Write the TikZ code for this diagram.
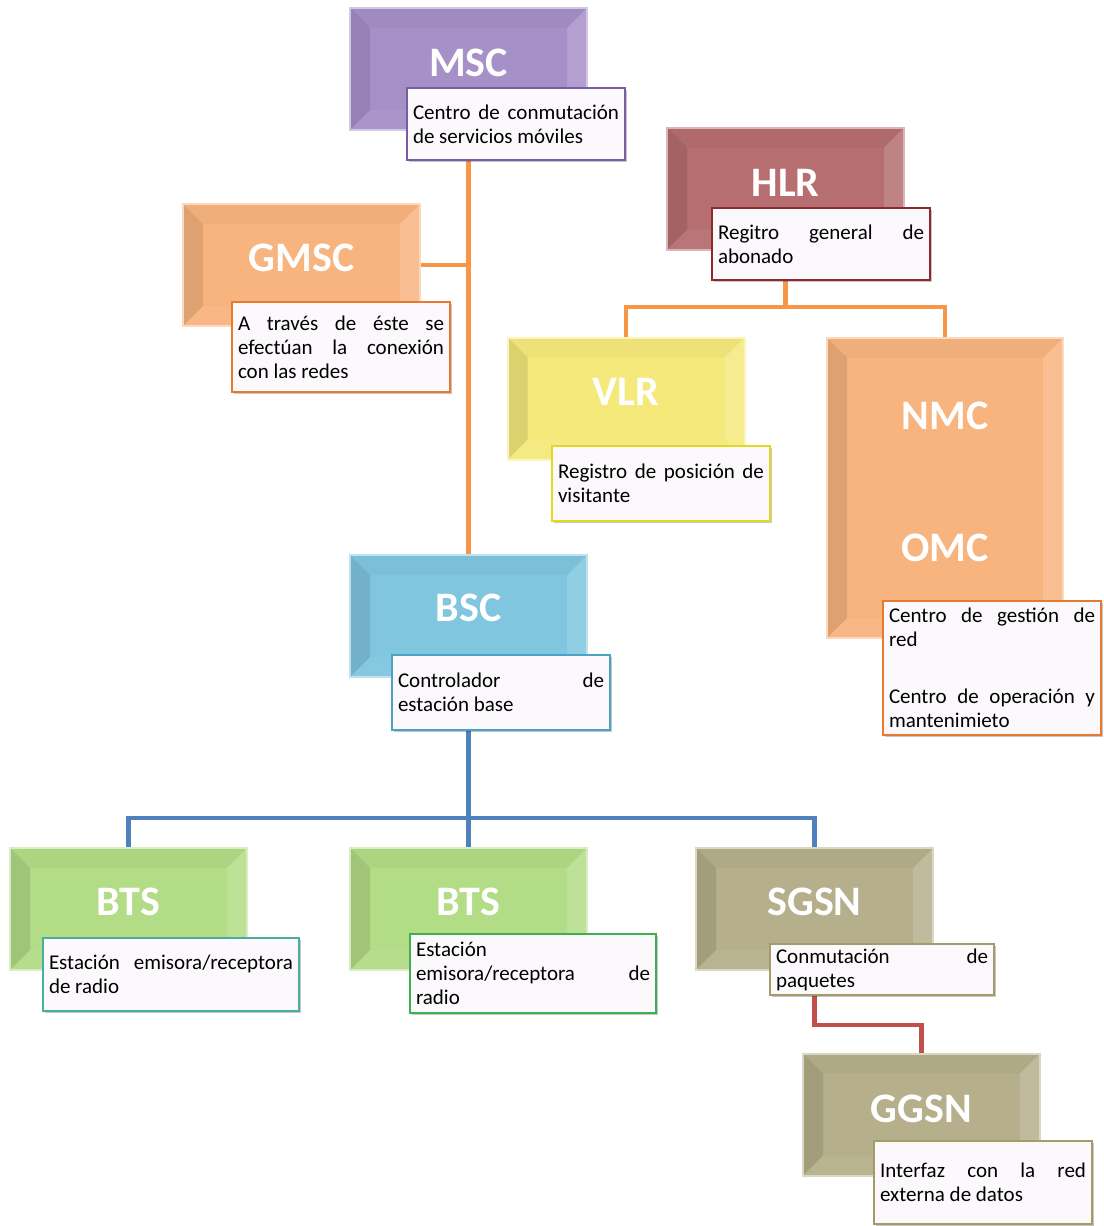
\documentclass[tikz,border=0pt]{standalone}
\usepackage{fontspec}
\setmainfont{Carlito}
\usetikzlibrary{calc,backgrounds,shadows}

% fills of the unit boxes
\definecolor{mscfill}{HTML}{A690C8}
\definecolor{gmscfill}{HTML}{F8B47F}
\definecolor{hlrfill}{HTML}{B66E70}
\definecolor{vlrfill}{HTML}{F5E97C}
\definecolor{bscfill}{HTML}{80C6DF}
\definecolor{btsfill}{HTML}{B3DC86}
\definecolor{sgsnfill}{HTML}{B5B08B}
% borders of the description boxes
\definecolor{mscedge}{HTML}{7A5CA6}
\definecolor{orangeedge}{HTML}{E8792E}
\definecolor{hlredge}{HTML}{8C2A30}
\definecolor{vlredge}{HTML}{E2DA1E}
\definecolor{bscedge}{HTML}{4AA2C4}
\definecolor{btsedgeA}{HTML}{4AADA0}
\definecolor{btsedgeB}{HTML}{3DB050}
\definecolor{sgsnedge}{HTML}{A39B68}
\definecolor{labfill}{HTML}{FCF9FC}
% connector colours
\definecolor{lineorange}{HTML}{F79646}
\definecolor{lineblue}{HTML}{4F81BD}
\definecolor{linered}{HTML}{C0504D}

\tikzset{
  unit/.style={rectangle, fill=#1, draw=#1!50!white, line width=2pt,
    minimum width=237pt, minimum height=122pt, inner sep=0pt,
    path picture={
      \path (path picture bounding box.south west) coordinate (bvsw)
            (path picture bounding box.north west) coordinate (bvnw)
            (path picture bounding box.north east) coordinate (bvne)
            (path picture bounding box.south east) coordinate (bvse);
      \fill[black,opacity=.10] (bvsw) -- (bvnw) -- ([shift={(20pt,-20pt)}]bvnw)
            -- ([shift={(20pt,20pt)}]bvsw) -- cycle;
      \fill[black,opacity=.03] (bvnw) -- (bvne) -- ([shift={(-20pt,-20pt)}]bvne)
            -- ([shift={(20pt,-20pt)}]bvnw) -- cycle;
      \fill[white,opacity=.15] (bvne) -- (bvse) -- ([shift={(-20pt,20pt)}]bvse)
            -- ([shift={(-20pt,-20pt)}]bvne) -- cycle;
      \fill[white,opacity=.05] (bvsw) -- (bvse) -- ([shift={(-20pt,20pt)}]bvse)
            -- ([shift={(20pt,20pt)}]bvsw) -- cycle;
    }},
  title/.style={text=white, inner sep=0pt,
    font=\fontsize{42}{48}\selectfont\bfseries},
  lab/.style={rectangle, draw=#1, line width=1.6pt, fill=labfill,
    inner xsep=6pt, inner ysep=0pt, align=justify,
    font=\fontsize{21}{24}\selectfont,
    drop shadow={shadow xshift=1.5pt, shadow yshift=-1.5pt, fill=black, opacity=.22}},
  conn/.style={line width=4.5pt, draw=#1}
}

% paragraph settings for the description texts
\newcommand\descprep{\hyphenpenalty=10000\relax\exhyphenpenalty=10000\relax\tolerance=10000\relax}

% description box: name, x1, y1, x2, y2, border colour, text
\newcommand\descbox[7]{%
  \pgfmathsetmacro\dbw{#4-#2}%
  \pgfmathsetmacro\dbh{#5-#3}%
  \pgfmathsetmacro\dbt{#4-#2-12}%
  \node[lab=#6, minimum width=\dbw pt, minimum height=\dbh pt, text width=\dbt pt]
    (#1) at ({(#2+#4)/2},{(#3+#5)/2}) {\descprep #7};%
}

\begin{document}
\begin{tikzpicture}[x=1pt,y=-1pt]
\useasboundingbox (0,0) rectangle (1103,1226);

% unit boxes
\node[unit=mscfill]  (msc)  at (468.5,69)   {};
\node[unit=gmscfill] (gmsc) at (301.5,265)  {};
\node[unit=hlrfill]  (hlr)  at (785.5,188.5){};
\node[unit=vlrfill]  (vlr)  at (626,398.5)  {};
\node[unit=gmscfill, minimum width=236pt, minimum height=300pt] (nmc) at (945,488) {};
\node[unit=bscfill]  (bsc)  at (468.5,616)  {};
\node[unit=btsfill]  (btsa) at (128.5,909)  {};
\node[unit=btsfill]  (btsb) at (468.5,909)  {};
\node[unit=sgsnfill] (sgsn) at (814.5,909)  {};
\node[unit=sgsnfill] (ggsn) at (921.5,1114.5){};

% titles
\node[title] (msct)  at ([yshift=-56pt]msc.north)  {MSC};
\node[title] (gmsct) at ([yshift=-55pt]gmsc.north) {GMSC};
\node[title] (hlrt)  at ([yshift=-56pt]hlr.north)  {HLR};
\node[title] (vlrt)  at ([yshift=-55pt]vlr.north)  {VLR};
\node[title] (nmct)  at ([yshift=-79pt]nmc.north)  {NMC};
\node[title] (omct)  at ([yshift=-211pt]nmc.north) {OMC};
\node[title] (bsct)  at ([yshift=-54pt]bsc.north)  {BSC};
\node[title] (btsat) at ([yshift=-55pt]btsa.north) {BTS};
\node[title] (btsbt) at ([yshift=-55pt]btsb.north) {BTS};
\node[title] (sgsnt) at ([yshift=-55pt]sgsn.north) {SGSN};
\node[title] (ggsnt) at ([yshift=-56pt]ggsn.north) {GGSN};

% descriptions
\descbox{mscl}{407}{88}{625}{160}{mscedge}{Centro de conmutación\linebreak de servicios móviles}
\descbox{gmscl}{232}{302}{450}{392}{orangeedge}{A través de éste se\linebreak efectúan la conexión\linebreak con las redes}
\descbox{hlrl}{712}{208}{930}{280}{hlredge}{Regitro general de\linebreak abonado}
\descbox{vlrl}{552}{446}{770}{521}{vlredge}{Registro de posición de\linebreak visitante}
\descbox{nmcl}{883}{601}{1101}{735}{orangeedge}{Centro de gestión de\linebreak red\par\vspace{33pt}Centro de operación y\linebreak mantenimieto}
\descbox{bscl}{392}{655}{610}{730}{bscedge}{Controlador de\linebreak estación base}
\descbox{btsal}{43}{938}{299}{1011}{btsedgeA}{Estación emisora/receptora\linebreak de radio}
\descbox{btsbl}{410}{934}{656}{1013}{btsedgeB}{Estación\linebreak emisora/receptora de\linebreak radio}
\descbox{sgsnl}{770}{944}{994}{995}{sgsnedge}{Conmutación de\linebreak paquetes}
\descbox{ggsnl}{874}{1141}{1092}{1224}{sgsnedge}{Interfaz con la red\linebreak externa de datos}

% connectors, behind the boxes
\begin{pgfonlayer}{background}
  \draw[conn=lineorange] (msc.south) -- (bsc.north);
  \draw[conn=lineorange] (gmsc.east) -- (gmsc.east -| msc.south);
  \coordinate (hlrbus) at (785.5,307);
  \draw[conn=lineorange] (hlr.south) -- (hlrbus);
  \draw[conn=lineorange] (vlr.north) |- (hlrbus) -| (nmc.north);
  \coordinate (bscbus) at (468.5,818);
  \draw[conn=lineblue] (bsc.south) -- (btsb.north);
  \draw[conn=lineblue] (btsa.north) |- (bscbus) -| (sgsn.north);
  \coordinate (sgsnbus) at (814.5,1025);
  \draw[conn=linered] (sgsn.south) -- (sgsnbus) -| (ggsn.north);
\end{pgfonlayer}
\end{tikzpicture}
\end{document}
